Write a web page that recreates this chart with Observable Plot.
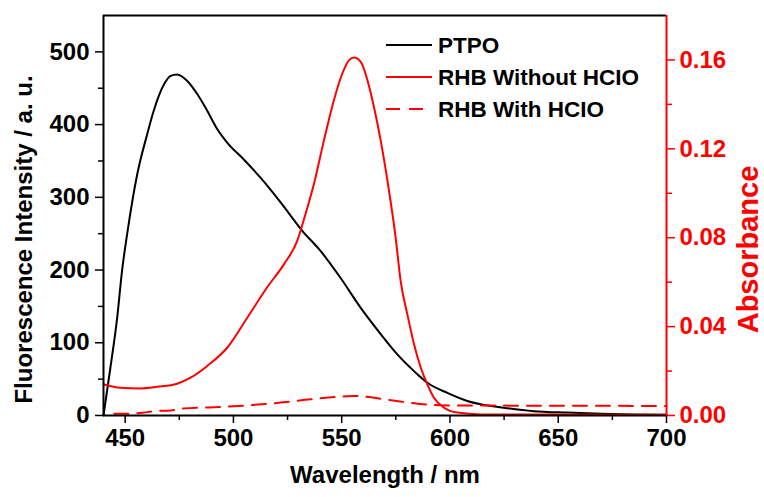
<!DOCTYPE html>
<html>
<head>
<meta charset="utf-8">
<script src="https://cdn.jsdelivr.net/npm/d3@7"></script>
<script src="https://cdn.jsdelivr.net/npm/@observablehq/plot@0.6"></script>
<style>
  html, body { margin: 0; padding: 0; background: #fff; }
  #chart { width: 764px; height: 497px; }
</style>
</head>
<body>
<div id="chart"></div>
<script>
// ---- Data ----
const ptpoWavelength = [440, 443.2, 446.3, 448.6, 450.9, 455.6, 460.2, 463.2, 467.9, 471, 474, 478.7, 483.3, 487.9, 492.5, 497.2, 504.8, 512.5, 521.8, 531.8, 540.3, 549.5, 558.8, 568, 575.7, 583.4, 589.6, 598.8, 608, 614.2, 624.8, 638.7, 654, 670, 685, 700];
const ptpoIntensity  = [0, 66, 134, 200, 249, 332, 387, 419, 455, 467, 469, 460, 442, 419, 394, 375, 352, 327, 293, 254, 226, 189, 148, 112, 84, 61, 45, 31, 20, 15.4, 10.7, 6, 4, 2.5, 1.5, 1];

const rhbWavelength = [440, 447.9, 457.1, 464.8, 474, 480.2, 487.9, 497.2, 506.4, 515.6, 523.3, 529.5, 533.3, 537.2, 541.8, 546.4, 550.3, 553.4, 555.7, 558.8, 561.9, 564.9, 568, 571.1, 574.9, 577.2, 580.3, 583.4, 586.5, 589.5, 592.6, 597.3, 603.4, 614.2, 650, 700];
const rhbAbsorbance = [0.0141, 0.0125, 0.0122, 0.0129, 0.0143, 0.017, 0.0223, 0.0306, 0.044, 0.0577, 0.068, 0.0787, 0.0907, 0.1043, 0.1238, 0.1419, 0.1539, 0.1599, 0.1611, 0.1591, 0.1509, 0.1388, 0.1238, 0.1058, 0.0802, 0.0607, 0.0456, 0.0321, 0.0216, 0.0141, 0.008, 0.0035, 0.0013, 0.0005, 0.0004, 0.0003];

const rhbHclWavelength = [445, 451.7, 458.6, 464, 471, 475.6, 497.2, 521.8, 535.7, 549.5, 556.5, 560.3, 572.8, 585.1, 595.7, 608, 650, 700];
const rhbHclAbsorbance = [0.0008, 0.0008, 0.0013, 0.002, 0.0023, 0.003, 0.004, 0.0058, 0.0073, 0.0085, 0.0088, 0.0085, 0.0069, 0.0053, 0.0046, 0.0045, 0.0044, 0.0043];

const xTicks = [450, 500, 550, 600, 650, 700];
const xMinorTicks = [475, 525, 575, 625, 675];
const yTicks = [0, 100, 200, 300, 400, 500];
const yMinorTicks = [50, 150, 250, 350, 450];
const absTicks = [0, 0.04, 0.08, 0.12, 0.16];
const absMinorTicks = [0.02, 0.06, 0.10, 0.14];

const xDomain = [440, 700];
const yDomain = [0, 550];
const absDomain = [0, 0.18];

const legendLabels = ["PTPO", "RHB Without HCIO", "RHB With HCIO"];
const legendColors = ["#000000", "#ff0000", "#ff0000"];
const legendDashes = [null, null, "14,9"];

const xTitle = "Wavelength / nm";
const yTitle = "Fluorescence Intensity / a. u.";
const absTitle = "Absorbance";

// ---- Build ----
const k = yDomain[1] / absDomain[1]; // absorbance -> left-axis units
const ptpo = ptpoWavelength.map((w, i) => ({w, v: ptpoIntensity[i]}));
const rhb = rhbWavelength.map((w, i) => ({w, v: rhbAbsorbance[i] * k}));
const rhbHcl = rhbHclWavelength.map((w, i) => ({w, v: rhbHclAbsorbance[i] * k}));

const FONT = "'Liberation Sans', Arial, Helvetica, sans-serif";
const noLabel = () => "";

function legendMark(index, scales, values, dims) {
  const g = d3.create("svg:g").attr("font-family", FONT).attr("font-weight", "bold");
  const x0 = dims.marginLeft + 283, x1 = dims.marginLeft + 329, tx = dims.marginLeft + 335;
  const y0 = dims.marginTop + 30, dy = 32;
  legendLabels.forEach((lab, i) => {
    const y = y0 + i * dy;
    g.append("line").attr("x1", x0).attr("x2", x1).attr("y1", y).attr("y2", y)
      .attr("stroke", legendColors[i]).attr("stroke-width", 2)
      .attr("stroke-dasharray", legendDashes[i]);
    g.append("text").attr("x", tx).attr("y", y).attr("dy", "0.36em")
      .attr("text-anchor", "start")
      .attr("font-size", 22.5).attr("fill", "#000").text(lab);
  });
  return g.node();
}

const chart = Plot.plot({
  width: 764,
  height: 497,
  marginLeft: 103,
  marginRight: 98,
  marginTop: 15,
  marginBottom: 82,
  style: {fontFamily: FONT, fontWeight: "bold", fontSize: "24px", background: "#fff", color: "#000", overflow: "visible"},
  x: {domain: xDomain},
  y: {domain: yDomain},
  marks: [
    // axes
    Plot.axisX(xTicks, {anchor: "bottom", tickSize: 8, tickPadding: 5, tickFormat: d => String(d), label: null, fontSize: 24, strokeWidth: 1.5}),
    Plot.axisX(xMinorTicks, {anchor: "bottom", tickSize: 5, tickFormat: noLabel, label: null, strokeWidth: 1.5}),
    Plot.axisY(yTicks, {anchor: "left", tickSize: 8, tickPadding: 6, tickFormat: d => String(d), label: null, fontSize: 24, strokeWidth: 1.5}),
    Plot.axisY(yMinorTicks, {anchor: "left", tickSize: 5, tickFormat: noLabel, label: null, strokeWidth: 1.5}),
    Plot.axisY(absTicks.map(d => d * k), {anchor: "right", tickSize: 8, tickPadding: 5, tickFormat: d => (d / k).toFixed(2), label: null, fontSize: 24, color: "#ff0000", strokeWidth: 1.5}),
    Plot.axisY(absMinorTicks.map(d => d * k), {anchor: "right", tickSize: 5, tickFormat: noLabel, label: null, color: "#ff0000", strokeWidth: 1.5}),
    // data
    Plot.line(ptpo, {x: "w", y: "v", stroke: "#000", strokeWidth: 2, curve: "monotone-x"}),
    Plot.line(rhbHcl, {x: "w", y: "v", stroke: "#ff0000", strokeWidth: 2, strokeDasharray: "14,9", curve: "monotone-x"}),
    Plot.line(rhb, {x: "w", y: "v", stroke: "#ff0000", strokeWidth: 2, curve: "monotone-x"}),
    // frame
    Plot.ruleY([yDomain[1]], {stroke: "#000", strokeWidth: 2}),
    Plot.ruleY([yDomain[0]], {stroke: "#000", strokeWidth: 2}),
    Plot.ruleX([xDomain[0]], {stroke: "#000", strokeWidth: 2}),
    Plot.ruleX([xDomain[1]], {stroke: "#ff0000", strokeWidth: 2}),
    // titles
    Plot.text([xTitle], {frameAnchor: "bottom", textAnchor: "middle", dy: 67, fontSize: 24, fill: "#000"}),
    Plot.text([yTitle], {frameAnchor: "left", textAnchor: "middle", rotate: -90, dx: -79, dy: 24, fontSize: 24, fill: "#000"}),
    Plot.text([absTitle], {frameAnchor: "right", textAnchor: "middle", rotate: -90, dx: 82, dy: 34, fontSize: 29, fill: "#ff0000"}),
    legendMark
  ]
});
document.getElementById("chart").appendChild(chart);
</script>
</body>
</html>
